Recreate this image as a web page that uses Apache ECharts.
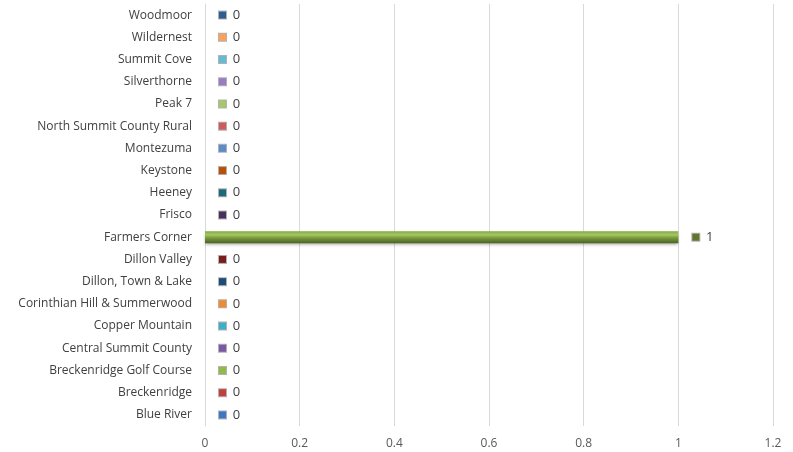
<!DOCTYPE html>
<html lang="en">
<head>
<meta charset="UTF-8" />
<script src="https://cdn.jsdelivr.net/npm/echarts@6/dist/echarts.min.js"></script>
<style>
  html, body { margin: 0; padding: 0; background: #fff; }
  #main { width: 793px; height: 452px; }
</style>
</head>
<body>
<div id="main"></div>
<script>
  // categories, bottom to top
  var categories = ['Blue River', 'Breckenridge', 'Breckenridge Golf Course', 'Central Summit County',
    'Copper Mountain', 'Corinthian Hill & Summerwood', 'Dillon, Town & Lake', 'Dillon Valley',
    'Farmers Corner', 'Frisco', 'Heeney', 'Keystone', 'Montezuma', 'North Summit County Rural',
    'Peak 7', 'Silverthorne', 'Summit Cove', 'Wildernest', 'Woodmoor'];
  var values = [0, 0, 0, 0, 0, 0, 0, 0, 1, 0, 0, 0, 0, 0, 0, 0, 0, 0, 0];
  var xTicks = [0, 0.2, 0.4, 0.6, 0.8, 1, 1.2];
  var colors = ['#3F78C0', '#C0403C', '#92BA48', '#7A58A4', '#3AB0CC', '#F08A30', '#1F4A7C',
    '#7A1E1C', '#5F7530', '#45305F', '#1B6A7E', '#B85008', '#5C8CCC', '#D05C5A',
    '#A6C86A', '#9A7CC0', '#62BCD6', '#F8A25A', '#2F5C94'];

  var myChart = echarts.init(document.getElementById('main'));

  var seriesData = values.map(function (v, i) {
    var c = colors[i];
    return {
      value: v,
      itemStyle: {
        color: new echarts.graphic.LinearGradient(0, 0, 0, 1, [
          { offset: 0, color: '#84A844' },
          { offset: 0.3, color: '#A3C863' },
          { offset: 0.55, color: '#7A9B3C' },
          { offset: 1, color: '#4B6224' }
        ]),
        shadowColor: 'rgba(0,0,0,0.35)',
        shadowBlur: 3,
        shadowOffsetY: 2
      },
      label: {
        show: true,
        position: 'right',
        distance: 14,
        formatter: '{sq|}  {v|{c}}',
        rich: {
          sq: { width: 7, height: 7, backgroundColor: c, borderColor: 'rgba(0,0,0,0.3)', borderWidth: 1 },
          v: { color: '#404040', fontSize: 13, fontFamily: 'Open Sans' }
        }
      }
    };
  });

  myChart.setOption({
    animation: false,
    grid: { left: 205, right: 20, top: 4, bottom: 26, containLabel: false },
    xAxis: {
      type: 'value',
      min: 0,
      max: 1.2,
      interval: 0.2,
      axisLine: { show: false },
      axisTick: { show: false },
      splitLine: { lineStyle: { color: '#D9D9D9', width: 1 } },
      axisLabel: {
        color: '#595959', fontSize: 12, fontFamily: 'Open Sans', margin: 12,
        formatter: function (v) {
          var t = xTicks.filter(function (x) { return Math.abs(x - v) < 1e-9; });
          return t.length ? String(t[0]) : '';
        }
      }
    },
    yAxis: {
      type: 'category',
      data: categories,
      axisLine: { show: true, lineStyle: { color: '#D9D9D9' } },
      axisTick: { show: false },
      axisLabel: { color: '#404040', fontSize: 12, fontFamily: 'Open Sans', margin: 13 }
    },
    series: [{
      type: 'bar',
      barWidth: 12,
      data: seriesData
    }]
  });
</script>
</body>
</html>
